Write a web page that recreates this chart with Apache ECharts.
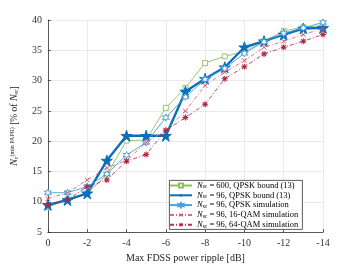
<!DOCTYPE html>
<html><head><meta charset="utf-8">
<script src="https://cdn.jsdelivr.net/npm/echarts@6/dist/echarts.min.js"></script>
<style>html,body{margin:0;padding:0;background:#fff}#c{width:357px;height:268px}</style>
</head><body><div id="c"></div>
<script>
var xValues = [0,-1,-2,-3,-4,-5,-6,-7,-8,-9,-10,-11,-12,-13,-14];
var bound600 = [9.1,10.4,11.4,14.5,20.1,20.2,25.5,28.8,32.9,34.0,34.8,36.5,38.2,38.8,39.1];
var bound96 = [9.5,10.3,11.4,16.8,20.9,20.9,20.9,28.2,30.3,32.2,35.5,36.5,37.6,38.6,38.7];
var simQPSK = [11.5,11.5,12.5,14.6,17.7,19.8,23.9,27.3,30.2,32.0,34.5,36.4,37.8,38.7,39.6];
var sim16 = [10.5,11.5,13.6,15.6,16.8,19.8,21.8,25.0,29.2,31.4,33.3,35.5,36.5,37.6,38.6];
var sim64 = [9.5,10.3,12.5,13.6,16.7,17.8,21.8,23.9,26.1,30.3,32.3,34.4,35.5,36.5,37.6];
var seriesNames = ['{i|N}{s|sc}{n| = 600, QPSK bound (13)}','{i|N}{s|sc}{n| = 96, QPSK bound (13)}','{i|N}{s|sc}{n| = 96, QPSK simulation}','{i|N}{s|sc}{n| = 96, 16-QAM simulation}','{i|N}{s|sc}{n| = 96, 64-QAM simulation}'];

function pairs(v){ return xValues.map(function(x,i){return [x,v[i]];}); }
var FONT = 'Liberation Serif';
var starPath = 'path://M50,0 L61.8,35.5 L100,35.5 L69.1,57.5 L80.9,93 L50,71 L19.1,93 L30.9,57.5 L0,35.5 L38.2,35.5 Z';
var hexPath = 'path://M50,0 L62,29 L93,25 L74,50 L93,75 L62,71 L50,100 L38,71 L7,75 L26,50 L7,25 L38,29 Z';
var xPath = 'path://M10,0 L50,40 L90,0 L100,10 L60,50 L100,90 L90,100 L50,60 L10,100 L0,90 L40,50 L0,10 Z';
var astPath = 'path://M42,0 L58,0 L58,30 L80,8 L92,20 L70,42 L100,42 L100,58 L70,58 L92,80 L80,92 L58,70 L58,100 L42,100 L42,70 L20,92 L8,80 L30,58 L0,58 L0,42 L30,42 L8,20 L20,8 L42,30 Z';

var chart = echarts.init(document.getElementById('c'), null, {renderer:'canvas'});
var rich = {
  i:{fontFamily:FONT,fontStyle:'italic',fontSize:8.5,color:'#000',lineHeight:9},
  n:{fontFamily:FONT,fontSize:8.5,color:'#000',lineHeight:9},
  s:{fontFamily:FONT,fontSize:5.5,color:'#000',verticalAlign:'bottom',lineHeight:9}
};
chart.setOption({
  animation:false,
  backgroundColor:'#fff',
  graphic:[
    {type:'rect',left:169,top:180,shape:{width:133,height:49},z:20,
      style:{fill:'#fff',stroke:'#333',lineWidth:0.8}}
  ],
  grid:{left:46,right:34,top:20,bottom:30,containLabel:false},
  xAxis:{type:'value',inverse:true,min:-14,max:0,interval:2,
    name:'Max FDSS power ripple [dB]',nameLocation:'middle',nameGap:17,
    nameTextStyle:{fontFamily:FONT,fontSize:10,color:'#222'},
    axisLine:{onZero:false,lineStyle:{color:'#333',width:0.8}},
    axisTick:{inside:true,length:3,lineStyle:{color:'#333',width:0.8}},
    axisLabel:{fontFamily:FONT,fontSize:10,color:'#333',margin:6},
    splitLine:{show:true,lineStyle:{color:'#e4e4e4',width:0.8}}},
  yAxis:{type:'value',min:5,max:40,interval:5,
    name:'{i|N}{s|c}{p|(min PAPR)} [% of {i|N}{s|sc}]',nameLocation:'middle',nameGap:24,
    nameTextStyle:{fontFamily:FONT,fontSize:9.5,color:'#222',rich:{
      i:{fontFamily:FONT,fontStyle:'italic',fontSize:10,color:'#222'},
      s:{fontFamily:FONT,fontSize:6,color:'#222',verticalAlign:'bottom',lineHeight:8,padding:[5,0,0,0]},
      p:{fontFamily:FONT,fontSize:6,color:'#222',verticalAlign:'top',lineHeight:8,padding:[0,0,6,0]}
    }},
    axisLine:{show:true,lineStyle:{color:'#333',width:0.8}},
    axisTick:{show:true,inside:true,length:3,lineStyle:{color:'#333',width:0.8}},
    axisLabel:{fontFamily:FONT,fontSize:10,color:'#333',margin:6},
    splitLine:{show:true,lineStyle:{color:'#e4e4e4',width:0.8}}},
  legend:{orient:'vertical',left:169,top:180,z:30,
    backgroundColor:'transparent',borderWidth:0,padding:[1,4,1,0],
    itemWidth:22,itemHeight:5,itemGap:0.8,
    textStyle:{fontFamily:FONT,fontSize:8.5,color:'#000',lineHeight:9,rich:rich},
    data:seriesNames},
  series:[
    {name:seriesNames[0],type:'line',data:pairs(bound600),symbol:'rect',symbolSize:5,
      lineStyle:{color:'#8ec05e',width:0.9},itemStyle:{color:'#fff',borderColor:'#8ec05e',borderWidth:0.9},z:2},
    {name:seriesNames[1],type:'line',data:pairs(bound96),symbol:starPath,symbolSize:11,
      lineStyle:{color:'#0a6fba',width:2.4},itemStyle:{color:'#0a6fba',borderColor:'#0a6fba'},z:3},
    {name:seriesNames[2],type:'line',data:pairs(simQPSK),symbol:hexPath,symbolSize:7,
      lineStyle:{color:'#4a9fdc',width:0.9},itemStyle:{color:'#fff',borderColor:'#4a9fdc',borderWidth:1},z:4},
    {name:seriesNames[3],type:'line',data:pairs(sim16),symbol:xPath,symbolSize:5,
      lineStyle:{color:'#d86a82',width:0.9,type:[4,2,1,2]},itemStyle:{color:'#d0506d'},z:5},
    {name:seriesNames[4],type:'line',data:pairs(sim64),symbol:astPath,symbolSize:6,
      lineStyle:{color:'#b8304f',width:0.9,type:[4,2,1,2]},itemStyle:{color:'#b0263f'},z:6}
  ]
});
</script></body></html>
